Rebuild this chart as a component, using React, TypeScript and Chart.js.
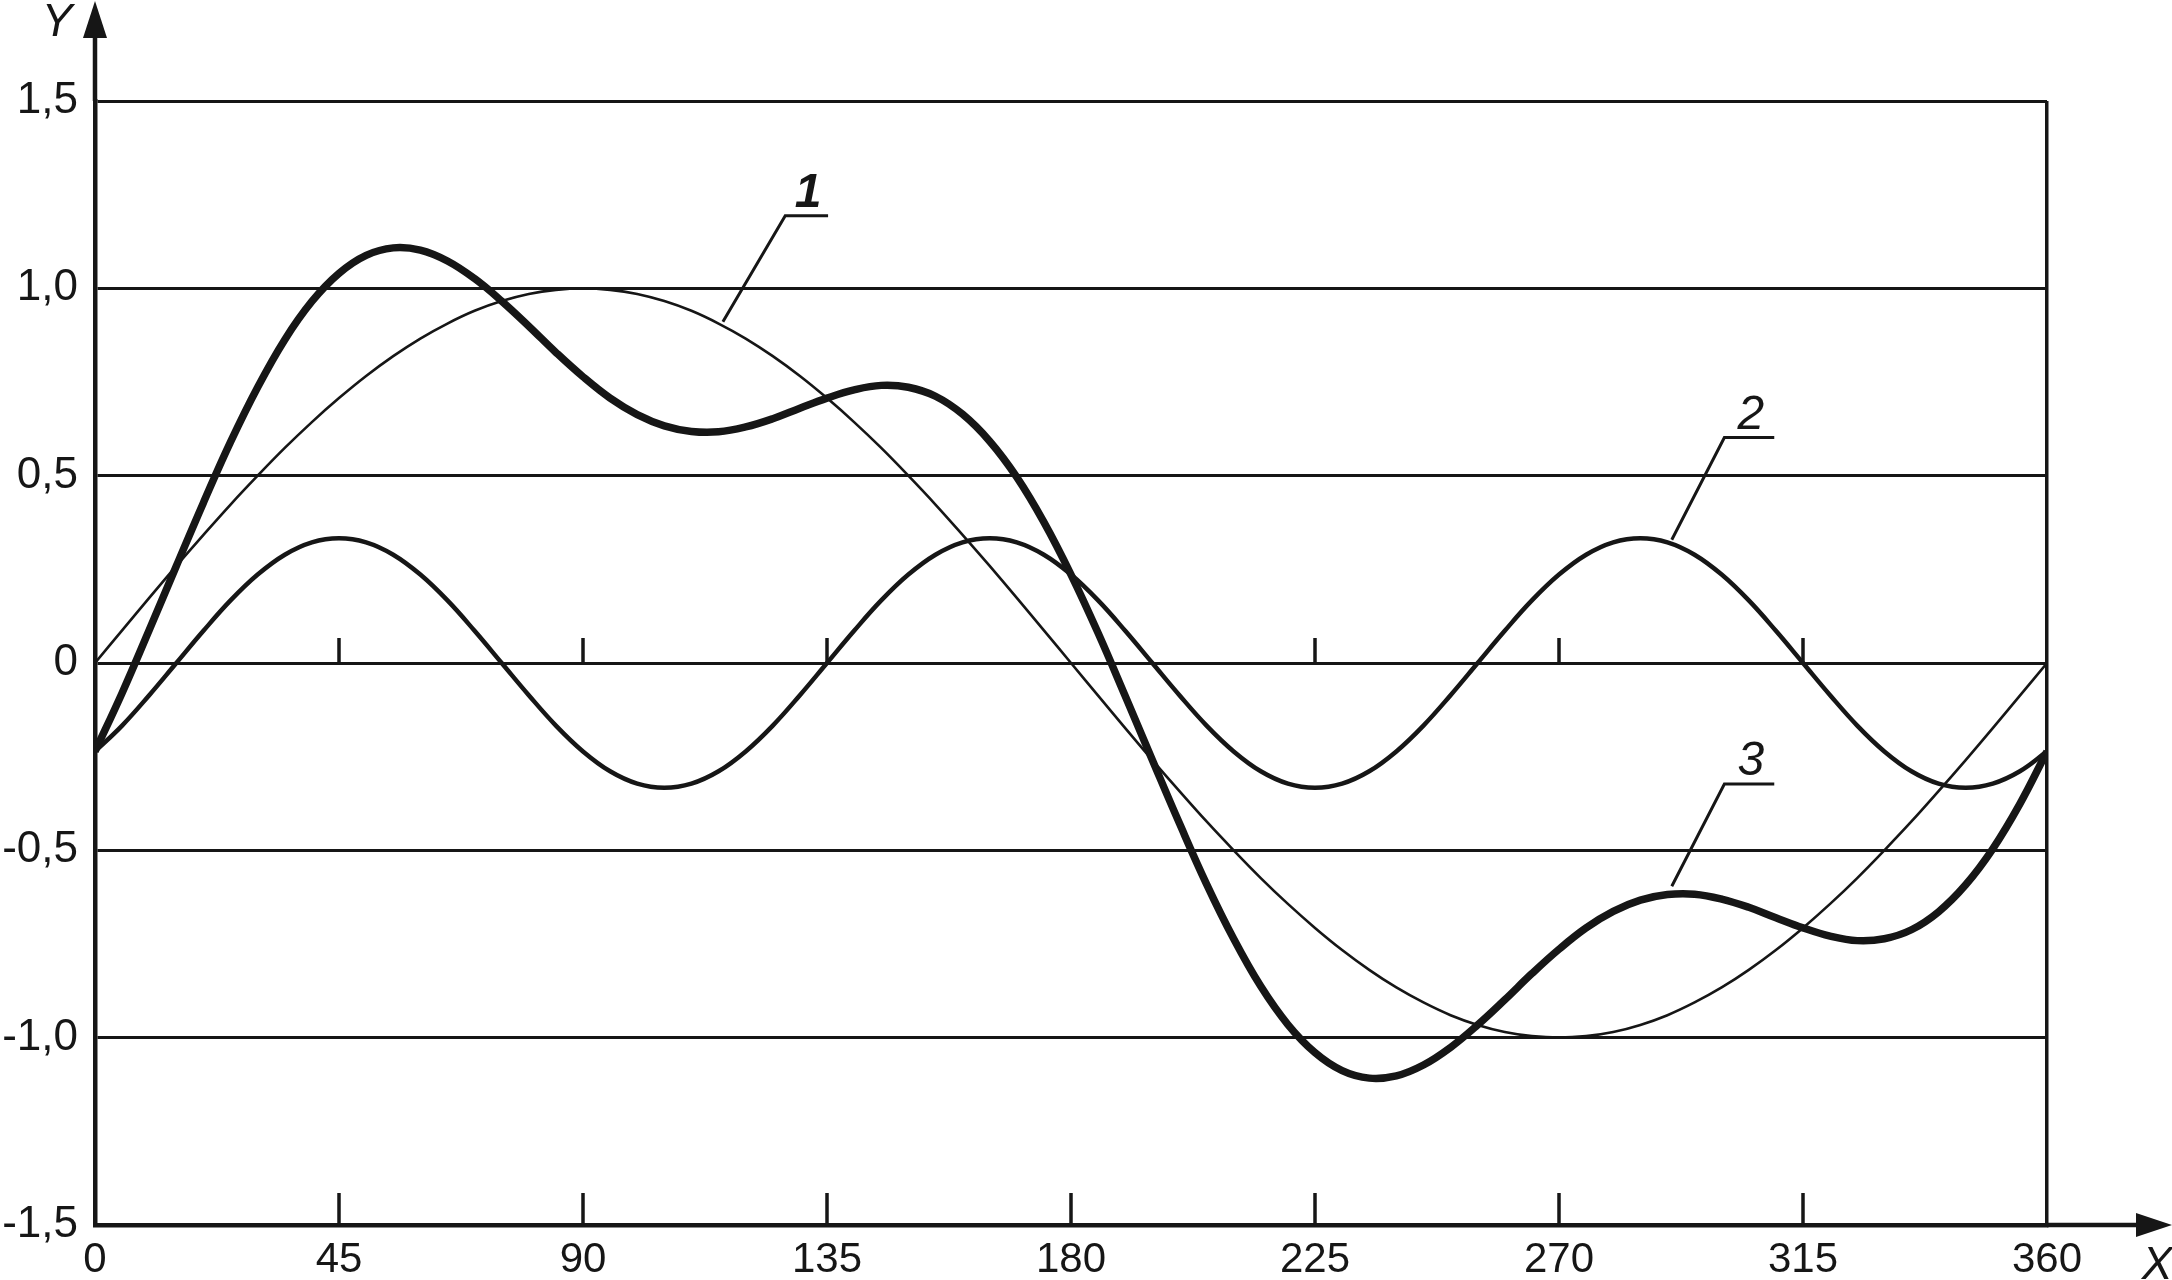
import React, { useEffect, useRef } from 'react';
import { Chart, registerables } from 'chart.js';

Chart.register(...registerables);

// ---- data ----
const xDegrees = [
  0, 5, 10, 15, 20, 25, 30, 35, 40, 45, 50, 55, 60, 65, 70, 75, 80, 85, 90,
  95, 100, 105, 110, 115, 120, 125, 130, 135, 140, 145, 150, 155, 160, 165, 170, 175, 180,
  185, 190, 195, 200, 205, 210, 215, 220, 225, 230, 235, 240, 245, 250, 255, 260, 265, 270,
  275, 280, 285, 290, 295, 300, 305, 310, 315, 320, 325, 330, 335, 340, 345, 350, 355, 360,
];

// curve 1
const series1 = [
  0, 0.087, 0.174, 0.259, 0.342, 0.423, 0.5, 0.574, 0.643, 0.707, 0.766, 0.819, 0.866, 0.906, 0.94, 0.966, 0.985, 0.996, 1,
  0.996, 0.985, 0.966, 0.94, 0.906, 0.866, 0.819, 0.766, 0.707, 0.643, 0.574, 0.5, 0.423, 0.342, 0.259, 0.174, 0.087, 0,
  -0.087, -0.174, -0.259, -0.342, -0.423, -0.5, -0.574, -0.643, -0.707, -0.766, -0.819, -0.866, -0.906, -0.94, -0.966, -0.985, -0.996, -1,
  -0.996, -0.985, -0.966, -0.94, -0.906, -0.866, -0.819, -0.766, -0.707, -0.643, -0.574, -0.5, -0.423, -0.342, -0.259, -0.174, -0.087, 0,
];

// curve 2
const series2 = [
  -0.236, -0.167, -0.086, 0, 0.086, 0.167, 0.236, 0.289, 0.322, 0.333, 0.322, 0.289, 0.236, 0.167, 0.086, 0, -0.086, -0.167, -0.236,
  -0.289, -0.322, -0.333, -0.322, -0.289, -0.236, -0.167, -0.086, 0, 0.086, 0.167, 0.236, 0.289, 0.322, 0.333, 0.322, 0.289, 0.236,
  0.167, 0.086, 0, -0.086, -0.167, -0.236, -0.289, -0.322, -0.333, -0.322, -0.289, -0.236, -0.167, -0.086, 0, 0.086, 0.167, 0.236,
  0.289, 0.322, 0.333, 0.322, 0.289, 0.236, 0.167, 0.086, 0, -0.086, -0.167, -0.236, -0.289, -0.322, -0.333, -0.322, -0.289, -0.236,
];

// curve 3
const series3 = [
  -0.236, -0.08, 0.088, 0.259, 0.428, 0.59, 0.736, 0.863, 0.965, 1.04, 1.088, 1.108, 1.102, 1.073, 1.026, 0.966, 0.899, 0.829, 0.764,
  0.707, 0.663, 0.633, 0.618, 0.617, 0.63, 0.652, 0.68, 0.707, 0.729, 0.741, 0.736, 0.712, 0.664, 0.592, 0.496, 0.376, 0.236,
  0.08, -0.088, -0.259, -0.428, -0.59, -0.736, -0.863, -0.965, -1.04, -1.088, -1.108, -1.102, -1.073, -1.026, -0.966, -0.899, -0.829, -0.764,
  -0.707, -0.663, -0.633, -0.618, -0.617, -0.63, -0.652, -0.68, -0.707, -0.729, -0.741, -0.736, -0.712, -0.664, -0.592, -0.496, -0.376, -0.236,
];

const xTickValues = [0, 45, 90, 135, 180, 225, 270, 315, 360];
const yTickValues = [-1.5, -1, -0.5, 0, 0.5, 1, 1.5];
const zeroLineTicks = [45, 90, 135, 225, 270, 315];
const bottomAxisTicks = [45, 90, 135, 180, 225, 270, 315];

const curveLabels = ['1', '2', '3'];
// label anchor positions in data units (x degrees, y value)
const labelTextX = [131.5, 305.4, 305.4];
const labelTextY = [1.216, 0.624, -0.3];
const underlineX0 = [127.3, 300.5, 300.5];
const underlineX1 = [135.2, 309.7, 309.7];
const underlineY = [1.194, 0.602, -0.323];
const leaderEndX = [115.8, 290.8, 290.8];
const leaderEndY = [0.911, 0.329, -0.596];

const INK = '#161616';
const FONT = '"Liberation Sans", Arial, sans-serif';

const overlayPlugin = {
  id: 'overlay',
  afterDraw(chart: any) {
    const { ctx, chartArea: a, scales } = chart;
    const xs = scales.x;
    const ys = scales.y;
    const ax = xs.getPixelForValue(0);
    const ay = ys.getPixelForValue(-1.5);
    const y0 = ys.getPixelForValue(0);
    const W = chart.width;
    ctx.save();
    ctx.strokeStyle = INK;
    ctx.fillStyle = INK;
    ctx.lineCap = 'butt';

    // Y axis extension + arrow
    ctx.lineWidth = 4.5;
    ctx.beginPath();
    ctx.moveTo(ax, a.top);
    ctx.lineTo(ax, 30);
    ctx.stroke();
    ctx.beginPath();
    ctx.moveTo(ax, 1);
    ctx.lineTo(ax - 12, 38);
    ctx.lineTo(ax + 12, 38);
    ctx.closePath();
    ctx.fill();

    // X axis extension + arrow
    ctx.beginPath();
    ctx.moveTo(a.right, ay);
    ctx.lineTo(W - 30, ay);
    ctx.stroke();
    ctx.beginPath();
    ctx.moveTo(W, ay);
    ctx.lineTo(W - 36, ay - 12);
    ctx.lineTo(W - 36, ay + 12);
    ctx.closePath();
    ctx.fill();

    // ticks on zero line
    ctx.lineWidth = 3.5;
    zeroLineTicks.forEach((v) => {
      const px = xs.getPixelForValue(v);
      ctx.beginPath();
      ctx.moveTo(px, y0);
      ctx.lineTo(px, y0 - 25);
      ctx.stroke();
    });
    // ticks on bottom axis
    bottomAxisTicks.forEach((v) => {
      const px = xs.getPixelForValue(v);
      ctx.beginPath();
      ctx.moveTo(px, ay);
      ctx.lineTo(px, ay - 32);
      ctx.stroke();
    });

    // axis names
    ctx.font = `italic 46px ${FONT}`;
    ctx.textAlign = 'center';
    ctx.textBaseline = 'alphabetic';
    ctx.fillText('Y', ax - 38, 36);
    ctx.fillText('X', W - 15, ay + 54);

    // curve labels with leaders
    ctx.lineWidth = 3;
    curveLabels.forEach((t, i) => {
      const ux0 = xs.getPixelForValue(underlineX0[i]);
      const ux1 = xs.getPixelForValue(underlineX1[i]);
      const uy = ys.getPixelForValue(underlineY[i]);
      const lx = xs.getPixelForValue(leaderEndX[i]);
      const ly = ys.getPixelForValue(leaderEndY[i]);
      ctx.beginPath();
      ctx.moveTo(ux1, uy);
      ctx.lineTo(ux0, uy);
      ctx.lineTo(lx, ly);
      ctx.stroke();
      ctx.font = `italic ${i === 0 ? 'bold ' : ''}48px ${FONT}`;
      ctx.textAlign = 'center';
      ctx.textBaseline = 'alphabetic';
      ctx.fillText(t, xs.getPixelForValue(labelTextX[i]), ys.getPixelForValue(labelTextY[i]));
    });
    ctx.restore();
  },
};

function fmt(v: number): string {
  if (v === 0) return '0';
  return v.toFixed(1).replace('.', ',');
}

export default function App() {
  const ref = useRef<HTMLCanvasElement | null>(null);
  useEffect(() => {
    document.body.style.margin = '0';
    const canvas = ref.current;
    if (!canvas) return;
    const mk = (arr: number[]) => xDegrees.map((x, i) => ({ x, y: arr[i] }));
    const chart = new Chart(canvas, {
      type: 'line',
      data: {
        datasets: [
          { label: '1', data: mk(series1), borderColor: INK, borderWidth: 2.6, pointRadius: 0, tension: 0.4, fill: false },
          { label: '2', data: mk(series2), borderColor: INK, borderWidth: 4.5, pointRadius: 0, tension: 0.4, fill: false },
          { label: '3', data: mk(series3), borderColor: INK, borderWidth: 7.5, pointRadius: 0, tension: 0.4, fill: false },
        ],
      },
      options: {
        animation: false,
        responsive: true,
        maintainAspectRatio: false,
        layout: { padding: { top: 101, right: 125, left: 0, bottom: 0 } },
        plugins: { legend: { display: false }, tooltip: { enabled: false } },
        scales: {
          x: {
            type: 'linear',
            min: 0,
            max: 360,
            afterFit: (s: any) => { s.height = 55; },
            afterBuildTicks: (s: any) => { s.ticks = xTickValues.map((v) => ({ value: v })); },
            ticks: { color: INK, font: { family: FONT, size: 42 }, padding: 10, maxRotation: 0, autoSkip: false },
            grid: {
              drawTicks: false,
              color: (c: any) => (c.tick && c.tick.value === 360 ? INK : 'rgba(0,0,0,0)'),
              lineWidth: 3.5,
            },
            border: { display: true, color: INK, width: 4.5 },
          },
          y: {
            type: 'linear',
            min: -1.5,
            max: 1.5,
            afterFit: (s: any) => { s.width = 95; },
            afterBuildTicks: (s: any) => { s.ticks = yTickValues.map((v) => ({ value: v })); },
            ticks: { color: INK, font: { family: FONT, size: 44 }, padding: 17, callback: (v: any) => fmt(Number(v)) },
            grid: { drawTicks: false, color: INK, lineWidth: 3 },
            border: { display: true, color: INK, width: 4.5 },
          },
        },
      },
      plugins: [overlayPlugin],
    } as any);
    return () => chart.destroy();
  }, []);
  return (
    <div style={{ position: 'absolute', left: 0, top: 0, width: 2172, height: 1280, background: '#fff' }}>
      <canvas ref={ref} />
    </div>
  );
}
